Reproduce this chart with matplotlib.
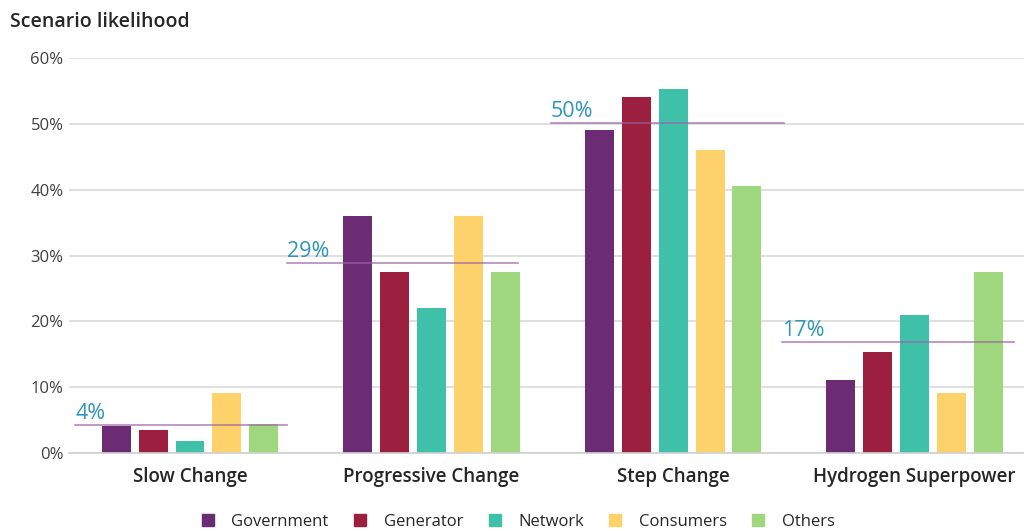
import matplotlib.pyplot as plt
import numpy as np
from matplotlib.lines import Line2D

plt.rcParams["font.family"] = ["Open Sans", "DejaVu Sans"]

############# DATA ##############################################
scenarios = ["Slow Change", "Progressive Change", "Step Change", "Hydrogen Superpower"]
groups = ["Government", "Generator", "Network", "Consumers", "Others"]
government = [4.1, 36.0, 49.1, 11.1]
generator = [3.5, 27.5, 54.1, 15.3]
network = [1.8, 22.0, 55.3, 21.0]
consumers = [9.1, 36.0, 46.0, 9.1]
others = [4.4, 27.5, 40.6, 27.5]
averages = [4.3, 28.9, 50.2, 16.9]
average_labels = ["4%", "29%", "50%", "17%"]
yticks = [0, 10, 20, 30, 40, 50, 60]

colors = ["#6b2c74", "#9c1f40", "#3fc1a9", "#fdd26b", "#9fd77f"]

############# PLOTTING ##########################################
fig = plt.figure(figsize=(10.24, 5.31), dpi=100)
ax = fig.add_axes([69 / 1024, 78 / 531, 955 / 1024, 395 / 531])

x = np.arange(len(scenarios))
step = 0.153
width = 0.12
series = [government, generator, network, consumers, others]
for i, vals in enumerate(series):
    ax.bar(x + (i - 2) * step, vals, width=width, color=colors[i], zorder=2)

# average lines with labels (the reference lines are not evenly placed)
line_start = [-0.476, -0.6, -0.505, -0.547]
line_end = [0.40, 0.36, 0.46, 0.41]
for xi, avg, lab, a, b in zip(x, averages, average_labels, line_start, line_end):
    ax.plot([xi + a, xi + b], [avg, avg], color="#9b62a6", lw=1.2,
            alpha=0.75, zorder=3)
    ax.text(xi + a, avg + 0.15, lab, color="#2e97b7", fontsize=15.5,
            ha="left", va="bottom", zorder=4)

ax.set_xlim(-0.501, 3.453)
ax.set_ylim(0, 60)
ax.set_yticks(yticks)
ax.set_yticklabels([f"{t}%" for t in yticks], fontsize=12, color="#404040")
ax.set_xticks(x)
ax.set_xticklabels(scenarios, fontsize=13.5, fontweight="semibold", color="#262626")
ax.tick_params(axis="both", length=0)
ax.tick_params(axis="x", pad=10)
ax.tick_params(axis="y", pad=4)
ax.grid(axis="y", color="#d9d9d9", lw=1.2, zorder=0)
for s in ["top", "right", "left"]:
    ax.spines[s].set_visible(False)
ax.spines["bottom"].set_color("#d0d0d0")
ax.spines["bottom"].set_linewidth(1.2)

fig.text(10 / 1024, 1 - 22 / 531, "Scenario likelihood", fontsize=14,
         fontweight="semibold", color="#262626", va="center", ha="left")

handles = [Line2D([0], [0], marker="s", ls="none", color=c, markersize=8.5)
           for c in colors]
fig.legend(handles, groups, loc="center", bbox_to_anchor=(513 / 1024, 9 / 531),
           ncol=5, frameon=False, fontsize=12, handletextpad=0.4,
           columnspacing=0.9, labelcolor="#262626")

fig.savefig("out.png", dpi=100)
